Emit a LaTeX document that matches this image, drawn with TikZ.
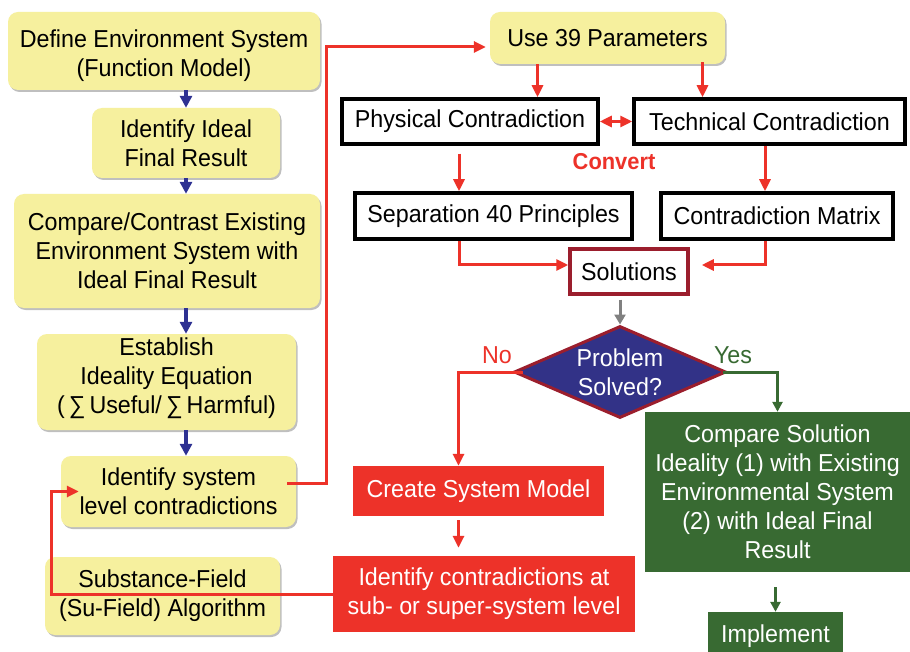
\documentclass[tikz,border=0pt]{standalone}
\usepackage{fontspec}
\setmainfont[FakeStretch=0.95]{Liberation Sans}
\usetikzlibrary{arrows.meta,shapes.geometric,shadows,calc}
\definecolor{yel}{RGB}{246,240,158}
\definecolor{navy}{RGB}{46,49,146}
\definecolor{tred}{RGB}{237,50,41}
\definecolor{dgreen}{RGB}{56,106,50}
\definecolor{dnavy}{RGB}{50,50,135}
\definecolor{maroon}{RGB}{155,30,45}
\newcommand{\shifttext}[2]{\raisebox{#1}[\height][\depth]{\begin{tabular}{@{}c@{}}#2\end{tabular}}}
\begin{document}
\begin{tikzpicture}[x=1pt,y=-1pt, font=\fontsize{24.5}{29}\selectfont,
 ybox/.style={rectangle, rounded corners=10pt, fill=yel, align=center, inner sep=0pt,
   drop shadow={shadow xshift=1.5pt, shadow yshift=-2pt, fill=black, opacity=0.25}},
 kbox/.style={rectangle, draw=black, line width=3.5pt, fill=white, align=center, inner sep=0pt},
 rbox/.style={rectangle, fill=tred, text=white, align=center, inner sep=0pt},
 gbox/.style={rectangle, fill=dgreen, text=white, align=center, inner sep=0pt},
 barrow/.style={draw=navy, line width=4pt, -{Triangle[length=12pt,width=12pt]}},
 rarrow/.style={draw=tred, line width=3pt, -{Triangle[length=12pt,width=11pt]}},
 garrow/.style={draw=dgreen, line width=3pt, -{Triangle[length=10pt,width=10pt]}},
]
\useasboundingbox (0,0) rectangle (910,652);
\clip (0,0) rectangle (910,652);
\fill[white] (0,0) rectangle (910,652);

% left column
\node[ybox, minimum width=312pt, minimum height=78pt] (n1) at (164,51) {\shifttext{-5pt}{Define Environment System\\(Function Model)}};
\node[ybox, minimum width=188pt, minimum height=70pt] (n2) at (186,143) {Identify Ideal\\Final Result};
\node[ybox, minimum width=306pt, minimum height=114pt] (n3) at (167,251) {Compare/Contrast Existing\\Environment System with\\Ideal Final Result};
\node[ybox, minimum width=259pt, minimum height=96pt] (n4) at (166.5,382) {\shifttext{3pt}{Establish\\Ideality Equation\\(\,∑\,Useful/\,∑\,Harmful)}};
\node[ybox, minimum width=235pt, minimum height=71pt] (n5) at (178.5,491.5) {Identify system\\level contradictions};
\node[ybox, minimum width=235pt, minimum height=78pt] (n6) at (162.5,596) {Substance-Field\\(Su-Field) Algorithm};

% right part
\node[ybox, minimum width=235pt, minimum height=52pt] (use) at (607.5,38) {\shifttext{-3pt}{Use 39 Parameters}};
\node[kbox, minimum width=256pt, minimum height=45pt] (phys) at (470,121.5) {Physical Contradiction};
\node[kbox, minimum width=271pt, minimum height=45pt] (tech) at (769.5,121.5) {Technical Contradiction};
\node[text=tred, font=\fontsize{23}{26}\selectfont\bfseries] (conv) at (614,162) {Convert};
\node[kbox, minimum width=277pt, minimum height=46pt] (sep) at (493.5,216) {Separation 40 Principles};
\node[kbox, minimum width=232pt, minimum height=46pt] (mat) at (777,216) {Contradiction Matrix};
\node[rectangle, draw=maroon, line width=3.5pt, fill=white, minimum width=118pt, minimum height=45pt, inner sep=0pt] (sol) at (629,271.5) {Solutions};
\node[diamond, draw=maroon, line width=3pt, fill=dnavy, text=white, align=center, inner sep=0pt, minimum width=212pt, minimum height=92pt, aspect=2.3] (dia) at (620,372) {Problem\\Solved?};
\node[text=tred] (no) at (497,355) {No};
\node[text=dgreen] (yes) at (733,355) {Yes};
\node[gbox, minimum width=265pt, minimum height=160pt] (grn) at (777.5,492) {Compare Solution\\Ideality (1) with Existing\\Environmental System\\(2) with Ideal Final\\Result};
\node[gbox, minimum width=135pt, minimum height=48pt] (impl) at (775.5,636) {Implement};
\node[rbox, minimum width=251pt, minimum height=50pt] (csm) at (478.5,491) {Create System Model};
\node[rbox, minimum width=302pt, minimum height=76pt] (ic) at (484,594) {Identify contradictions at\\sub- or super-system level};

% blue arrows
\draw[barrow] (n2.north |- n1.south) -- (n2.north);
\draw[barrow] (n2.south) -- (n2.south |- n3.north);
\draw[barrow] (n2.south |- n3.south) -- (n2.south |- n4.north);
\draw[barrow] (n2.south |- n4.south) -- (n2.south |- n5.north);

% red connectors
\coordinate (c1) at (326,0);
\draw[rarrow, shorten >=4pt] ([xshift=-9pt,yshift=8pt]n5.east) -- ([yshift=8pt]n5.east -| c1) |- ([yshift=-9pt]use.west);
\draw[rarrow] ([xshift=-70pt]use.south) -- ([xshift=-70pt]use.south |- phys.north);
\draw[rarrow] ([xshift=95pt,yshift=2pt]use.south) -- ([xshift=95pt]use.south |- tech.north);
\draw[draw=tred, line width=3pt, {Triangle[length=12pt,width=11pt]}-{Triangle[length=12pt,width=11pt]}] (phys.east) -- (tech.west);
\draw[rarrow] ([xshift=-11pt,yshift=-8pt]phys.south) -- ([xshift=-11pt]phys.south |- sep.north);
\draw[rarrow] ([xshift=-4.5pt]tech.south) -- ([xshift=-4.5pt]tech.south |- mat.north);
\draw[rarrow] ([xshift=-34.5pt]sep.south) |- ([yshift=6.5pt]sol.west);
\draw[rarrow, shorten >=12pt] ([xshift=-12pt]mat.south) |- ([yshift=6.5pt]sol.east);
\draw[draw=gray, line width=3pt, -{Triangle[length=10pt,width=11pt]}, shorten <=4pt] (sol.south -| dia.north) -- (dia.north);
\draw[rarrow] ([xshift=10pt]dia.west) -| ([xshift=-20pt]csm.north);
\draw[garrow] ([xshift=-5pt]dia.east) -| (grn.north);
\draw[garrow, shorten <=15pt] (impl.north |- grn.south) -- (impl.north);
\draw[rarrow, shorten <=4pt, shorten >=8pt] ([xshift=-20pt]csm.south) -- ([xshift=-20pt]csm.south |- ic.north);
\draw[rarrow] (ic.west) -| ([xshift=-9pt]n5.west) -- ([xshift=18pt]n5.west);
\end{tikzpicture}
\end{document}
